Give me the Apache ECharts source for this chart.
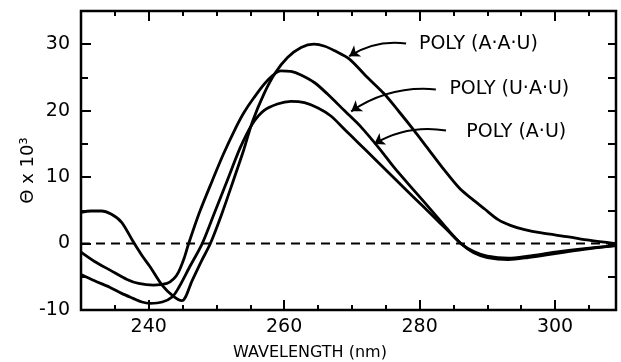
<!DOCTYPE html>
<html><head><meta charset="utf-8">
<script src="https://cdn.jsdelivr.net/npm/echarts@6.0.0/dist/echarts.min.js"></script>
<style>html,body{margin:0;padding:0;background:#fff}#c{width:621px;height:362px}</style>
</head><body><div id="c"></div>
<script>
// axis extents and ticks
const xMin = 230, xMax = 309, yMin = -10, yMax = 35;
const xTickLabels = [240, 260, 280, 300];
const xMinorTicks = [235, 245, 250, 255, 265, 270, 275, 285, 290, 295, 305];
const yTickLabels = [-10, 0, 10, 20, 30];
const yMinorTicks = [-5, 5, 15, 25];
const yRightTicks = [-5, 0, 5, 10, 15, 20, 25, 30];

// POLY (A·A·U)
const aauWl  = [230, 231.5, 233, 234.5, 236, 237.7, 239, 240.2, 242, 243.7, 244.9, 246.4, 247.8, 249.1, 250.8, 252.5, 254, 255.3, 257, 258.7, 260.5, 262.5, 264.4, 266, 267.5, 269.6, 272, 274.8, 277, 279.2, 281, 283.7, 286, 288, 289.6, 291.6, 293.5, 295.5, 298, 302, 305, 308.9];
const aauVal = [4.7, 4.9, 4.9, 4.4, 3.2, 0.3, -1.8, -3.5, -6.3, -8.0, -8.6, -5.6, -2.6, 0, 4.5, 9.5, 14, 18.3, 22.5, 25.7, 28.0, 29.5, 30.0, 29.7, 29.0, 27.8, 25.3, 22.5, 19.8, 17.0, 14.6, 11.0, 8.2, 6.5, 5.2, 3.6, 2.7, 2.1, 1.6, 1.0, 0.5, 0];
// POLY (U·A·U)
const uauWl  = [230, 232, 234.3, 236.8, 238.5, 240.7, 242.7, 243.7, 244.4, 245.2, 245.9, 247.5, 249.4, 251, 252.6, 254, 255.5, 257.5, 259.5, 261, 262.4, 264.5, 266.4, 269, 271.3, 274.3, 276.2, 279, 282, 284, 286.1, 288, 290, 293.1, 296, 300, 304, 308.9];
const uauVal = [-1.3, -2.7, -4.0, -5.4, -6.0, -6.25, -6.0, -5.3, -4.3, -2.3, 0, 4.7, 9.5, 13.4, 16.9, 19.6, 21.9, 24.5, 26.0, 25.9, 25.4, 24.2, 22.5, 19.9, 17.6, 14.0, 11.5, 8.2, 4.7, 2.3, 0, -1.4, -2.1, -2.4, -2.1, -1.5, -0.9, -0.3];
// POLY (A·U)
const auWl  = [230, 232, 234.3, 236, 237.7, 239, 240.2, 242, 243.5, 244.5, 246, 247.9, 249.7, 251.6, 253.5, 255.3, 257, 259, 261, 263, 265, 266.9, 269, 271, 273.3, 276, 279, 282, 284, 286.1, 288, 290, 293.1, 296, 300, 304, 308.9];
const auVal = [-4.65, -5.6, -6.6, -7.5, -8.25, -8.8, -9.0, -8.8, -8.0, -6.5, -3.6, 0, 4.6, 9.5, 14.4, 18.0, 20.0, 21.0, 21.4, 21.2, 20.4, 19.2, 17.1, 15.1, 12.8, 10.1, 7.1, 4.1, 2.1, 0, -1.2, -1.9, -2.2, -1.9, -1.3, -0.8, -0.3];

// annotations (data coordinates)
const seriesNames = ['POLY (A·A·U)', 'POLY (U·A·U)', 'POLY (A·U)'];
const labelAt   = [[279.9, 30.0], [284.4, 23.25], [286.9, 16.75]];
const arrowFrom = [[278.0, 30.1], [282.4, 23.2], [283.9, 17.0]];
const arrowTo   = [[269.6, 28.2], [269.9, 19.9], [273.3, 15.0]];

const FONT = 'DejaVu Sans';
const zip = (a, b) => a.map((v, i) => [v, b[i]]);
const curves = [zip(aauWl, aauVal), zip(uauWl, uauVal), zip(auWl, auVal)];

function xAxisDef(pos, ticks, len, labels) {
  return {
    type: 'value', position: pos, min: xMin, max: xMax,
    axisLine: { show: false, onZero: false },
    splitLine: { show: false },
    axisTick: { show: true, inside: true, length: len, customValues: ticks, lineStyle: { color: '#000', width: 2 } },
    axisLabel: labels ? { show: true, customValues: labels, color: '#000', fontFamily: FONT, fontSize: 19, margin: 8 } : { show: false }
  };
}
function yAxisDef(pos, ticks, len, labels) {
  return {
    type: 'value', position: pos, min: yMin, max: yMax,
    axisLine: { show: false, onZero: false },
    splitLine: { show: false },
    axisTick: { show: true, inside: true, length: len, customValues: ticks, lineStyle: { color: '#000', width: 2 } },
    axisLabel: labels ? { show: true, customValues: labels, color: '#000', fontFamily: FONT, fontSize: 19, margin: 11 } : { show: false }
  };
}

const xAxes = [
  xAxisDef('bottom', xTickLabels, 10, xTickLabels),
  xAxisDef('bottom', xMinorTicks, 5, null),
  xAxisDef('top', xTickLabels, 10, null),
  xAxisDef('top', xMinorTicks, 5, null)
];
Object.assign(xAxes[0], {
  name: 'WAVELENGTH (nm)', nameLocation: 'middle', nameGap: 35, nameMoveOverlap: false,
  nameTextStyle: { color: '#000', fontFamily: FONT, fontSize: 16, padding: [0, 77, 0, 0] }
});
const yAxes = [
  yAxisDef('left', yTickLabels, 10, yTickLabels),
  yAxisDef('left', yMinorTicks, 7, null),
  yAxisDef('right', yRightTicks, 8, null)
];
Object.assign(yAxes[0], {
  name: 'Θ x 10³', nameLocation: 'middle', nameGap: 44, nameMoveOverlap: false,
  nameTextStyle: { color: '#000', fontFamily: FONT, fontSize: 18, padding: [0, 20, 0, 0] }
});

const series = curves.map((d, i) => ({
  name: seriesNames[i], type: 'line', data: d, xAxisIndex: 0, yAxisIndex: 0,
  showSymbol: false, smooth: 0.3, silent: true,
  lineStyle: { color: '#000', width: 2.8 },
  markPoint: {
    silent: true, animation: false, symbol: 'circle', symbolSize: 0,
    label: { show: true, position: 'right', distance: 0, color: '#000', fontFamily: FONT, fontSize: 19, formatter: seriesNames[i] },
    data: [{ coord: labelAt[i] }]
  }
}));
series.push({
  name: 'arrows', type: 'lines', coordinateSystem: 'cartesian2d', xAxisIndex: 0, yAxisIndex: 0,
  silent: true, animation: false,
  symbol: ['none', 'arrow'], symbolSize: 10,
  lineStyle: { color: '#000', width: 2, opacity: 1, curveness: -0.18 },
  data: arrowFrom.map((f, i) => ({ coords: [f, arrowTo[i]] }))
});
series.push({
  name: 'zero', type: 'line', data: [[xMin, 0], [xMax, 0]], xAxisIndex: 0, yAxisIndex: 0,
  showSymbol: false, silent: true,
  lineStyle: { color: '#000', width: 2, type: [9, 6] }
});

const chart = echarts.init(document.getElementById('c'), null, { renderer: 'canvas' });
chart.setOption({
  animation: false,
  backgroundColor: '#fff',
  grid: { left: 81, right: 5, top: 11, bottom: 52, show: true, borderColor: '#000', borderWidth: 2.5, containLabel: false, outerBoundsMode: 'none' },
  xAxis: xAxes,
  yAxis: yAxes,
  series: series
});
</script>
</body></html>
